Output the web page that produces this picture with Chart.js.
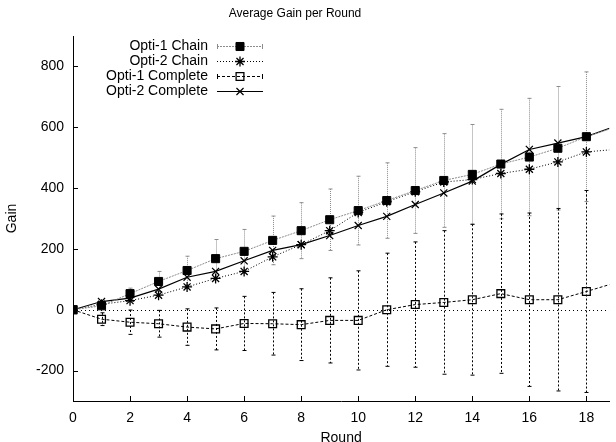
<!DOCTYPE html>
<html>
<head>
<meta charset="utf-8">
<title>Average Gain per Round</title>
<script src="https://cdn.jsdelivr.net/npm/chart.js@4"></script>
<style>
    body { margin: 0; background: #fff; }
    #wrap { width: 616px; height: 442px; }
</style>
</head>
<body>
<div id="wrap"><canvas id="gainChart" width="616" height="442"></canvas></div>
<script>
// data
const rounds = [0, 1, 2, 3, 4, 5, 6, 7, 8, 9, 10, 11, 12, 13, 14, 15, 16, 17, 18, 19];

const opti1Chain    = [0, 13, 53, 93, 129, 168, 192, 228, 260, 296, 326, 359, 392, 425, 445, 479, 502, 531, 569, 600];
const opti1ChainErr = [0, 8, 18, 33, 47, 63, 72, 80, 92, 101, 113, 124, 141, 154, 164, 180, 193, 203, 213, 225];

const opti2Chain    = [0, 18, 30, 48, 75, 103, 126, 174, 214, 260, 320, 355, 388, 420, 428, 448, 462, 486, 519, 527];

const opti1Complete    = [0, -31, -41, -46, -57, -63, -45, -46, -49, -35, -35, 0, 17, 24, 33, 53, 33, 33, 60, 88];
const opti1CompleteErr = [0, 21, 40, 44, 60, 69, 89, 103, 118, 140, 163, 186, 206, 236, 248, 262, 285, 300, 332, 340];

const opti2Complete = [0, 27, 38, 68, 107, 126, 161, 195, 214, 244, 277, 307, 346, 384, 423, 478, 527, 548, 569, 603];

const xTicks = [0, 2, 4, 6, 8, 10, 12, 14, 16, 18];
const yTicks = [-200, 0, 200, 400, 600, 800];

const FONT = "'Liberation Sans', Arial, Helvetica, sans-serif";

function points(vals) {
    return rounds.map((r, i) => ({ x: r, y: vals[i] }));
}

// error bars, zero line, inward ticks, title and key in gnuplot style
const gnuplotLook = {
    id: 'gnuplotLook',
    beforeDatasetsDraw(chart) {
        const { ctx, chartArea, scales: { x, y } } = chart;
        ctx.save();
        ctx.beginPath();
        ctx.rect(chartArea.left, chartArea.top, chartArea.right - chartArea.left, chartArea.bottom - chartArea.top);
        ctx.clip();

        // garis nol
        const y0 = Math.round(y.getPixelForValue(0)) + 0.5;
        ctx.strokeStyle = '#000';
        ctx.lineWidth = 1;
        ctx.setLineDash([1, 3]);
        ctx.beginPath();
        ctx.moveTo(chartArea.left, y0);
        ctx.lineTo(chartArea.right, y0);
        ctx.stroke();

        chart.data.datasets.forEach(ds => {
            if (!ds.errors) return;
            ctx.strokeStyle = ds.errColor;
            ctx.lineWidth = 1;
            ds.data.forEach((p, i) => {
                const err = ds.errors[i];
                if (!err) return;
                const px = Math.round(x.getPixelForValue(p.x)) + 0.5;
                const top = y.getPixelForValue(p.y + err);
                const bot = y.getPixelForValue(p.y - err);
                ctx.setLineDash(ds.errDash);
                ctx.beginPath();
                ctx.moveTo(px, top);
                ctx.lineTo(px, bot);
                ctx.stroke();
                ctx.setLineDash([]);
                ctx.beginPath();
                ctx.moveTo(px - 2, top); ctx.lineTo(px + 2, top);
                ctx.moveTo(px - 2, bot); ctx.lineTo(px + 2, bot);
                ctx.stroke();
            });
        });
        ctx.restore();
    },
    afterDraw(chart) {
        const { ctx, chartArea, scales: { x, y } } = chart;
        ctx.save();
        ctx.strokeStyle = '#000';
        ctx.lineWidth = 1;
        ctx.setLineDash([]);

        // tick ke dalam
        ctx.beginPath();
        yTicks.forEach(v => {
            const py = Math.round(y.getPixelForValue(v)) + 0.5;
            ctx.moveTo(chartArea.left, py);
            ctx.lineTo(chartArea.left + 5, py);
        });
        xTicks.forEach(v => {
            const px = Math.round(x.getPixelForValue(v)) + 0.5;
            ctx.moveTo(px, chartArea.bottom);
            ctx.lineTo(px, chartArea.bottom - 5);
        });
        ctx.stroke();

        // judul
        ctx.fillStyle = '#000';
        ctx.font = '12px ' + FONT;
        ctx.textAlign = 'center';
        ctx.textBaseline = 'middle';
        ctx.fillText('Average Gain per Round', 295, 14);

        // key
        ctx.font = '14px ' + FONT;
        ctx.textAlign = 'right';
        chart.data.datasets.forEach((ds, i) => {
            const ky = 46 + i * 15;
            ctx.fillStyle = '#000';
            ctx.fillText(ds.label, 208, ky);

            const x1 = 217, x2 = 263, xm = 240;
            ctx.strokeStyle = ds.borderColor;
            ctx.lineWidth = ds.borderWidth;
            ctx.setLineDash(ds.borderDash || []);
            ctx.beginPath();
            ctx.moveTo(x1, ky + 0.5);
            ctx.lineTo(x2, ky + 0.5);
            ctx.stroke();
            ctx.setLineDash([]);
            if (ds.errors) {
                ctx.strokeStyle = ds.errColor;
                ctx.lineWidth = 1;
                ctx.beginPath();
                ctx.moveTo(x1 + 0.5, ky - 2); ctx.lineTo(x1 + 0.5, ky + 3);
                ctx.moveTo(x2 - 0.5, ky - 2); ctx.lineTo(x2 - 0.5, ky + 3);
                ctx.stroke();
            }
            ctx.strokeStyle = ds.pointBorderColor;
            ctx.fillStyle = ds.pointBackgroundColor;
            ctx.lineWidth = ds.pointBorderWidth;
            Chart.helpers.drawPoint(ctx, {
                pointStyle: ds.pointStyle,
                radius: ds.pointRadius,
                rotation: 0,
                borderWidth: ds.pointBorderWidth
            }, xm, ky + 0.5);
        });
        ctx.restore();
    }
};

document.addEventListener("DOMContentLoaded", () => {
    const ctx = document.getElementById('gainChart').getContext('2d');
    new Chart(ctx, {
        type: 'line',
        data: {
            datasets: [{
                label: 'Opti-1 Chain',
                data: points(opti1Chain),
                errors: opti1ChainErr,
                errColor: '#8c8c8c',
                errDash: [1, 1],
                borderColor: '#8c8c8c',
                borderWidth: 1,
                borderDash: [2, 1],
                pointStyle: 'rect',
                pointRadius: 5.7,
                pointBorderWidth: 1,
                pointBackgroundColor: '#000',
                pointBorderColor: '#000'
            }, {
                label: 'Opti-2 Chain',
                data: points(opti2Chain),
                borderColor: '#000',
                borderWidth: 1,
                borderDash: [1, 2],
                pointStyle: 'star',
                pointRadius: 5,
                pointBorderWidth: 1.3,
                pointBackgroundColor: '#000',
                pointBorderColor: '#000'
            }, {
                label: 'Opti-1 Complete',
                data: points(opti1Complete),
                errors: opti1CompleteErr,
                errColor: '#000',
                errDash: [2, 2],
                borderColor: '#000',
                borderWidth: 1,
                borderDash: [3, 2],
                pointStyle: 'rect',
                pointRadius: 5.5,
                pointBorderWidth: 1.3,
                pointBackgroundColor: 'rgba(0,0,0,0)',
                pointBorderColor: '#000'
            }, {
                label: 'Opti-2 Complete',
                data: points(opti2Complete),
                borderColor: '#000',
                borderWidth: 1.2,
                pointStyle: 'crossRot',
                pointRadius: 5,
                pointBorderWidth: 1.2,
                pointBackgroundColor: '#000',
                pointBorderColor: '#000'
            }]
        },
        options: {
            responsive: false,
            animation: false,
            layout: { padding: { top: 36, right: 0, left: 0, bottom: 0 } },
            plugins: {
                legend: { display: false },
                tooltip: { enabled: false }
            },
            elements: { line: { tension: 0, fill: false } },
            scales: {
                x: {
                    type: 'linear',
                    min: 0,
                    max: 18.8,
                    afterBuildTicks: (scale) => { scale.ticks = xTicks.map(v => ({ value: v })); },
                    afterFit: (scale) => { scale.height = 41; },
                    grid: { display: false, drawTicks: false },
                    border: { display: true, color: '#000', width: 1 },
                    ticks: { color: '#000', padding: 9, maxRotation: 0, font: { family: FONT, size: 14 } },
                    title: {
                        display: true, text: 'Round', color: '#000',
                        padding: { top: 0, bottom: 0 },
                        font: { family: FONT, size: 14, lineHeight: 0.6 }
                    }
                },
                y: {
                    min: -300,
                    max: 900,
                    afterBuildTicks: (scale) => { scale.ticks = yTicks.map(v => ({ value: v })); },
                    afterFit: (scale) => { scale.width = 73; },
                    grid: { display: false, drawTicks: false },
                    border: { display: true, color: '#000', width: 1 },
                    ticks: { color: '#000', padding: 9, font: { family: FONT, size: 14 } },
                    title: {
                        display: true, text: 'Gain', color: '#000',
                        padding: { top: 4, bottom: 0 },
                        font: { family: FONT, size: 14 }
                    }
                }
            }
        },
        plugins: [gnuplotLook]
    });
});
</script>
</body>
</html>
